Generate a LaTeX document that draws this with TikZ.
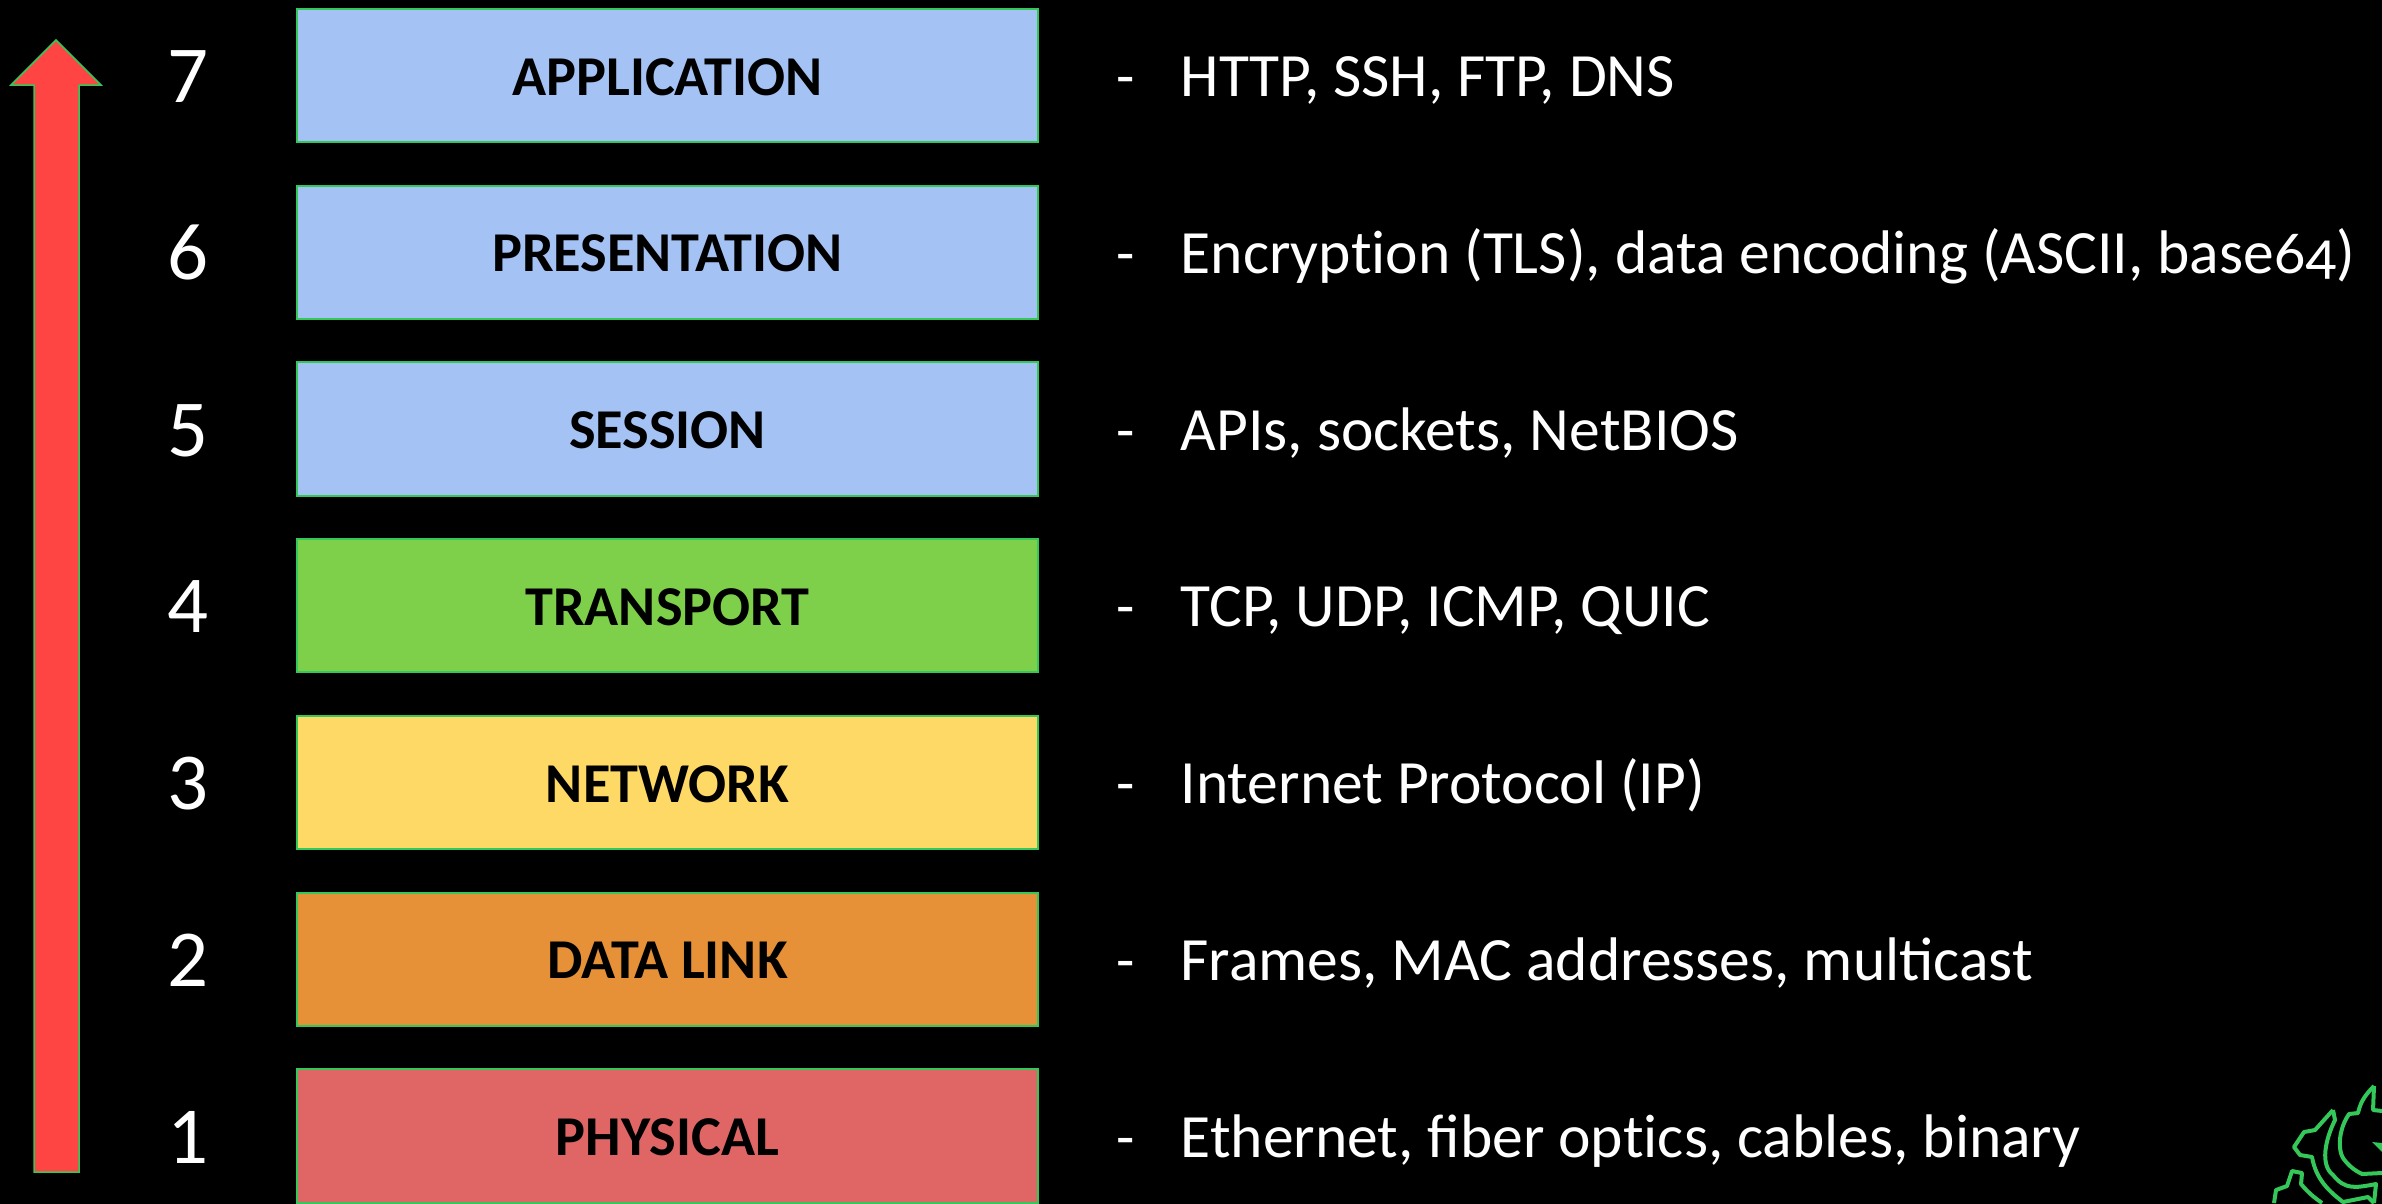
\documentclass[tikz,border=0pt]{standalone}
\usepackage{fontspec}
\setmainfont{Carlito}
\newfontfamily\bodyfont[Numbers=OldStyle]{Carlito}
\definecolor{edgegreen}{HTML}{34C759}
\definecolor{arrowred}{HTML}{FF4444}
\definecolor{layerblue}{HTML}{A4C2F4}
\definecolor{layergreen}{HTML}{7ED04B}
\definecolor{layeryellow}{HTML}{FFD966}
\definecolor{layerorange}{HTML}{E69138}
\definecolor{layerred}{HTML}{E06666}
\tikzset{
  layer/.style={draw=edgegreen, line width=0.02cm, minimum width=7.40cm, minimum height=1.33cm, inner sep=0pt, text height=11.2pt, text depth=0pt, font=\fontsize{16}{18}\selectfont\bfseries, text=black},
  num/.style={anchor=base, inner sep=0pt, text=white, font=\fontsize{23}{25}\selectfont},
  dashmark/.style={anchor=base west, inner sep=0pt, text=white, font=\fontsize{17}{20}\selectfont\bodyfont},
  proto/.style={anchor=base west, inner sep=0pt, text=white, font=\fontsize{17.5}{20}\selectfont\bodyfont},
  logoline/.style={edgegreen, line width=0.04cm, line join=round}
}
\begin{document}
\begin{tikzpicture}[x=0.01cm,y=-0.01cm]
        \useasboundingbox (0,0) rectangle (2382,1203);
        \fill[black] (-5,-5) rectangle (2387,1208);

        % arrow
        \draw [edgegreen, line width=0.015cm, fill=arrowred] (56,40) -- (101,85) -- (79,85) -- (79,1172) -- (34,1172) -- (34,85) -- (11,85) -- cycle;

        % layers
        \node [layer, fill=layerblue] (application) at (667.5,75.5) {APPLICATION};
        \node [layer, fill=layerblue] (presentation) at (667.5,252.25) {PRESENTATION};
        \node [layer, fill=layerblue] (session) at (667.5,429) {SESSION};
        \node [layer, fill=layergreen] (transport) at (667.5,605.75) {TRANSPORT};
        \node [layer, fill=layeryellow] (network) at (667.5,782.5) {NETWORK};
        \node [layer, fill=layerorange] (datalink) at (667.5,959.25) {DATA LINK};
        \node [layer, fill=layerred] (physical) at (667.5,1136) {PHYSICAL};

        % numbers
        \node [num] (n7) at (188,102) {7};
        \node [num] (n6) at (188,279) {6};
        \node [num] (n5) at (188,456) {5};
        \node [num] (n4) at (188,632) {4};
        \node [num] (n3) at (188,809) {3};
        \node [num] (n2) at (188,986) {2};
        \node [num] (n1) at (188,1163) {1};

        % dashes
        \node [dashmark] (d7) at (1116,96) {-};
        \node [dashmark] (d6) at (1116,273) {-};
        \node [dashmark] (d5) at (1116,450) {-};
        \node [dashmark] (d4) at (1116,626) {-};
        \node [dashmark] (d3) at (1116,803) {-};
        \node [dashmark] (d2) at (1116,980) {-};
        \node [dashmark] (d1) at (1116,1157) {-};

        % protocols
        \node [proto] (p7) at (1180,96) {HTTP, SSH, FTP, DNS};
        \node [proto] (p6) at (1180,273) {Encryp\hbox{t}ion (TLS), data encoding (ASCII, base64)};
        \node [proto] (p5) at (1180,450) {APIs, sockets, NetBIOS};
        \node [proto] (p4) at (1180,626) {TCP, UDP, ICMP, QUIC};
        \node [proto] (p3) at (1180,803) {Internet Protocol (IP)};
        \node [proto] (p2) at (1180,980) {Frames, MAC addresses, multicast};
        \node [proto] (p1) at (1180,1157) {Ethernet, fiber op\hbox{t}ics, cables, binary};

        % logo in the corner
        \begin{scope}
        \clip (2200,1050) rectangle (2382,1203);
        \draw [logoline] (2274,1203) -- (2276,1190) -- (2287,1186) -- (2292,1171) -- (2302,1173) -- (2301,1184) .. controls (2310,1195) and (2318,1200) .. (2322,1203);
        \draw [logoline] (2333,1110) -- (2315,1130) -- (2304,1132) -- (2294,1147) -- (2300,1155) -- (2312,1157) .. controls (2316,1180) and (2330,1192) .. (2343,1202) -- (2368,1197) -- (2374,1203);
        \draw [logoline] (2333,1110) -- (2335,1120) .. controls (2325,1140) and (2320,1165) .. (2333,1175) .. controls (2345,1190) and (2355,1188) .. (2376,1184) -- (2374,1203);
        \draw [logoline] (2374,1086) .. controls (2362,1098) and (2360,1105) .. (2358,1113) -- (2349,1114) .. controls (2338,1130) and (2338,1150) .. (2343,1158) .. controls (2350,1168) and (2358,1172) .. (2362,1174) -- (2382,1173);
        \draw [logoline] (2374,1086) -- (2373,1110) -- (2382,1111);
        \fill [edgegreen] (2372,1142) -- (2382,1143) -- (2382,1152) -- cycle;
        \end{scope}
\end{tikzpicture}
\end{document}
